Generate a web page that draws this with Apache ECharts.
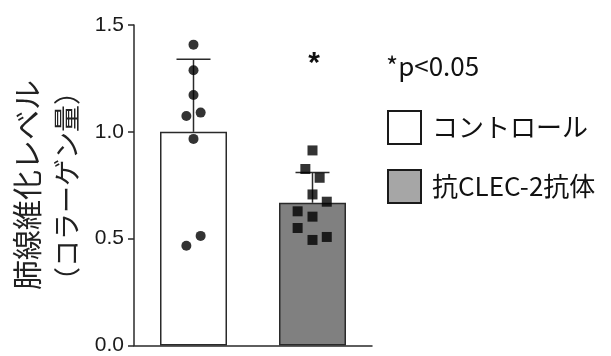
<!DOCTYPE html>
<html><head><meta charset="utf-8">
<script src="https://cdn.jsdelivr.net/npm/echarts@6/dist/echarts.min.js"></script>
<style>html,body{margin:0;padding:0;background:#fff}#c{width:611px;height:356px}</style>
</head><body><div id="c"></div>
<script>
const categories = ['コントロール', '抗CLEC-2抗体'];
const means = [1.0, 0.668];
const sdUpper = [1.34, 0.81];
const controlPoints = [1.408, 1.288, 1.172, 1.074, 1.09, 0.967, 0.513, 0.467];
const controlJitter = [0, 0, 0, -0.06, 0.06, 0, 0.06, -0.06];
const clecPoints = [0.913, 0.826, 0.785, 0.707, 0.673, 0.628, 0.603, 0.550, 0.508, 0.494];
const clecJitter = [0, -0.06, 0.06, 0, 0.12, -0.125, 0, -0.125, 0.12, 0];
const yTicks = [0, 0.5, 1.0, 1.5];

const chart = echarts.init(document.getElementById('c'));
const line = '#2a2a2a';
const barStyle = [
  {color: '#ffffff', borderColor: line, borderWidth: 1.5},
  {color: '#808080', borderColor: line, borderWidth: 1.5}
];
const legendFill = ['#ffffff', '#a6a6a6'];
const series = [];
categories.forEach((name, i) => {
  series.push({
    name, type: 'bar', barWidth: 67, barGap: '-100%',
    data: categories.map((_, j) => j === i ? means[i] : '-'),
    itemStyle: barStyle[i], silent: true
  });
});
series.push({
  type: 'custom', silent: true,
  data: means.map((m, i) => [i, m, sdUpper[i]]),
  renderItem(params, api) {
    const base = api.coord([api.value(0), api.value(1)]);
    const top = api.coord([api.value(0), api.value(2)]);
    return {type: 'group', children: [
      {type: 'line', shape: {x1: base[0], y1: base[1], x2: top[0], y2: top[1]}, style: {stroke: line, lineWidth: 1.5}},
      {type: 'line', shape: {x1: top[0] - 17, y1: top[1], x2: top[0] + 17, y2: top[1]}, style: {stroke: line, lineWidth: 1.5}}
    ]};
  },
  z: 3
});
series.push({
  type: 'scatter', xAxisIndex: 1, symbol: 'circle', symbolSize: 10,
  itemStyle: {color: '#000'}, silent: true, z: 4,
  data: controlPoints.map((v, k) => [0.5 + controlJitter[k], v])
});
series.push({
  type: 'scatter', xAxisIndex: 1, symbol: 'rect', symbolSize: 10,
  itemStyle: {color: '#000'}, silent: true, z: 4,
  data: clecPoints.map((v, k) => [1.5 + clecJitter[k], v])
});

chart.setOption({
  animation: false,
  grid: {left: 134, right: 239, top: 25, bottom: 8},
  xAxis: [
    {type: 'category', data: categories, axisLine: {lineStyle: {color: line, width: 1.5}},
     axisTick: {show: false}, axisLabel: {show: false}},
    {type: 'value', min: 0, max: 2, show: false}
  ],
  yAxis: {
    type: 'value', min: yTicks[0], max: yTicks[yTicks.length - 1], interval: 0.5,
    splitLine: {show: false},
    axisLine: {show: true, lineStyle: {color: line, width: 1.5}},
    axisTick: {show: true, length: 6, lineStyle: {color: line, width: 1.5}},
    axisLabel: {margin: 10, fontSize: 21, color: '#1a1a1a', fontFamily: 'Liberation Sans, Arial, sans-serif',
      formatter: v => v.toFixed(1)}
  },
  legend: {
    orient: 'vertical', left: 382, top: 105, icon: 'rect', itemWidth: 33, itemHeight: 33,
    itemGap: 24,
    data: categories.map((n, i) => ({name: n, itemStyle: {color: legendFill[i], borderColor: '#1a1a1a', borderWidth: 2}})),
    textStyle: {fontSize: 26, color: '#111', fontFamily: 'Noto Sans CJK JP', padding: [0, 0, 0, 6]}
  },
  graphic: [
    {type: 'text', x: 27, y: 185, rotation: Math.PI / 2,
     style: {text: '肺線維化レベル', fontSize: 30, fill: '#222', fontFamily: 'Noto Sans CJK JP', align: 'center', verticalAlign: 'middle'}},
    {type: 'text', x: 67, y: 186, rotation: Math.PI / 2,
     style: {text: '（コラーゲン量）', fontSize: 27, fill: '#222', fontFamily: 'Noto Sans CJK JP', align: 'center', verticalAlign: 'middle'}},
    {type: 'text', x: 314, y: 64,
     style: {text: '*', fontSize: 30, fontWeight: 'bold', fill: '#111', fontFamily: 'Liberation Sans, Arial', align: 'center', verticalAlign: 'middle'}},
    {type: 'text', x: 386, y: 66,
     style: {text: '*p<0.05', fontSize: 26, fill: '#111', fontFamily: 'Noto Sans CJK JP', verticalAlign: 'middle'}}
  ],
  series
});
</script></body></html>
